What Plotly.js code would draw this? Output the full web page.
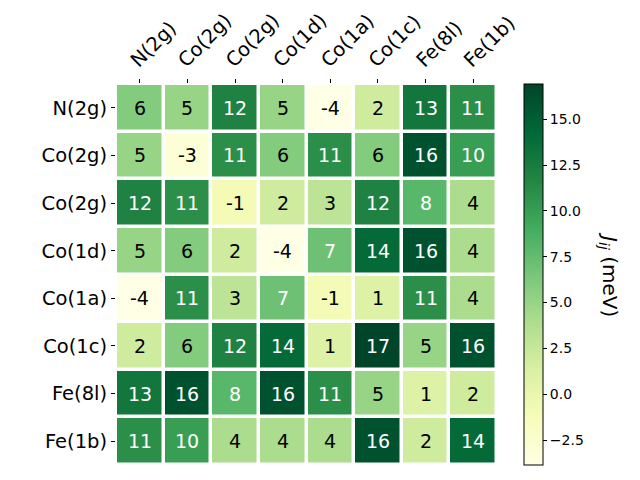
<!DOCTYPE html>
<html>
<head>
<meta charset="utf-8">
<script src="https://cdn.plot.ly/plotly-3.0.1.min.js"></script>
<style>html,body{margin:0;padding:0;background:#fff;}#chart{width:640px;height:480px;}</style>
</head>
<body>
<div id="chart"></div>
<script>
const colLabels = ["N(2g)","Co(2g)","Co(2g)","Co(1d)","Co(1a)","Co(1c)","Fe(8l)","Fe(1b)"];
const rowLabels = ["N(2g)","Co(2g)","Co(2g)","Co(1d)","Co(1a)","Co(1c)","Fe(8l)","Fe(1b)"];
const rowN2g  = [6, 5, 12, 5, -4, 2, 13, 11];
const rowCo2gA = [5, -3, 11, 6, 11, 6, 16, 10];
const rowCo2gB = [12, 11, -1, 2, 3, 12, 8, 4];
const rowCo1d = [5, 6, 2, -4, 7, 14, 16, 4];
const rowCo1a = [-4, 11, 3, 7, -1, 1, 11, 4];
const rowCo1c = [2, 6, 12, 14, 1, 17, 5, 16];
const rowFe8l = [13, 16, 8, 16, 11, 5, 1, 2];
const rowFe1b = [11, 10, 4, 4, 4, 16, 2, 14];
const cbTicks = [-2.5, 0, 2.5, 5, 7.5, 10, 12.5, 15];

const z = [rowN2g, rowCo2gA, rowCo2gB, rowCo1d, rowCo1a, rowCo1c, rowFe8l, rowFe1b];
const idx = colLabels.map((_, i) => i);
const zmin = -3.86, zmax = 16.92;
const mid = (zmin + zmax) / 2;

const ylgn = [
  [0, "#ffffe5"], [0.125, "#f7fcb9"], [0.25, "#d9f0a3"], [0.375, "#addd8e"],
  [0.5, "#78c679"], [0.625, "#41ab5d"], [0.75, "#238443"], [0.875, "#006837"], [1, "#004529"]
];

const annotations = [];
z.forEach((row, i) => row.forEach((v, j) => {
  annotations.push({
    x: j, y: i, xref: "x", yref: "y", text: String(v), showarrow: false,
    font: {family: "DejaVu Sans", size: 19, color: v > mid ? "#ffffff" : "#000000"}
  });
}));
annotations.push({
  xref: "paper", yref: "paper", x: 1.295, y: 0.5, xanchor: "center", yanchor: "middle",
  text: "<i>J</i><sub><i>ij</i></sub> (meV)", textangle: 90, showarrow: false,
  font: {family: "DejaVu Sans", size: 20, color: "#000"}
});

const trace = {
  type: "heatmap", z: z, x: idx, y: idx,
  colorscale: ylgn, zmin: zmin, zmax: zmax,
  xgap: 3.5, ygap: 3.5, hoverinfo: "skip",
  colorbar: {
    x: 1.071, xanchor: "left", xpad: 0, ypad: 0, y: 0.5, yanchor: "middle",
    len: 1, lenmode: "fraction", thickness: 19, thicknessmode: "pixels",
    outlinewidth: 1, outlinecolor: "#000",
    ticks: "outside", ticklen: 4, tickwidth: 1, tickcolor: "#000",
    tickvals: cbTicks, ticktext: cbTicks.map(t => t.toFixed(1).replace("-", "\u2212")),
    tickfont: {family: "DejaVu Sans", size: 14, color: "#000"}
  }
};

const axisCommon = {
  tickvals: idx, ticks: "outside", ticklen: 4, tickwidth: 1, tickcolor: "#000",
  tickfont: {family: "DejaVu Sans", size: 19.5, color: "#000"},
  showgrid: false, zeroline: false, showline: false, fixedrange: true
};

const layout = {
  width: 640, height: 480,
  margin: {l: 116, r: 143, t: 84, b: 15},
  paper_bgcolor: "#fff", plot_bgcolor: "#fff",
  font: {family: "DejaVu Sans", color: "#000"},
  xaxis: Object.assign({}, axisCommon, {side: "top", ticktext: colLabels, tickangle: -45, ticklabelshift: -8, range: [-0.5, 7.5]}),
  yaxis: Object.assign({}, axisCommon, {ticktext: rowLabels, range: [7.5, -0.5]}),
  annotations: annotations,
  showlegend: false
};

Plotly.newPlot("chart", [trace], layout, {displayModeBar: false, staticPlot: true});
</script>
</body>
</html>
